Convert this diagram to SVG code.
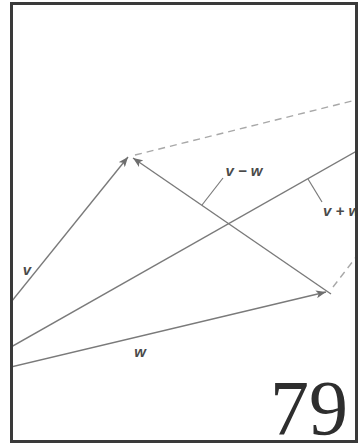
<svg xmlns="http://www.w3.org/2000/svg" width="360" height="443" viewBox="0 0 360 443">
<defs>
<style>
.vec{stroke:#7a7a7a;stroke-width:1.4;fill:none}
.dash{stroke:#a8a8a8;stroke-width:1.4;fill:none;stroke-dasharray:7 5}
.lead{stroke:#7a7a7a;stroke-width:1.2;fill:none}
.lbl{font-family:"Liberation Sans",Arial,sans-serif;font-size:15px;font-style:italic;font-weight:bold;fill:#4a4a4a}
.num{font-family:"Liberation Serif","DejaVu Serif",serif;font-size:78px;fill:#2e2e2e}
</style>
<marker id="ah" viewBox="0 0 10 8" refX="10" refY="4" markerWidth="10" markerHeight="8" markerUnits="userSpaceOnUse" orient="auto">
<path d="M0,0 L10,4 L0,8 L2.5,4 z" fill="#6e6e6e"/>
</marker>
<clipPath id="frame"><rect x="13" y="5" width="342" height="435"/></clipPath>
</defs>
<rect x="0" y="0" width="360" height="443" fill="#ffffff"/>
<g id="connectors" clip-path="url(#frame)">
<line id="dash-top" class="dash" x1="135" y1="155" x2="360" y2="99"/>
<line id="dash-right" class="dash" x1="333" y1="287" x2="360" y2="252"/>
<line id="vec-v" class="vec" x1="11" y1="302" x2="128" y2="157" marker-end="url(#ah)"/>
<line id="vec-w" class="vec" x1="11" y1="367" x2="326" y2="292" marker-end="url(#ah)"/>
<line id="vec-vpw" class="vec" x1="11" y1="347" x2="362" y2="148"/>
<line id="vec-vmw" class="vec" x1="331" y1="294" x2="133" y2="158" marker-end="url(#ah)"/>
<line id="lead-vmw" class="lead" x1="202" y1="205" x2="223" y2="178"/>
<line id="lead-vpw" class="lead" x1="308" y1="179" x2="322" y2="202"/>
</g>
<g id="labels" clip-path="url(#frame)">
<text id="label-v" class="lbl" x="27" y="275" text-anchor="middle">v</text>
<text id="label-vmw" class="lbl" x="244" y="176" text-anchor="middle">v − w</text>
<text id="label-vpw" class="lbl" x="323" y="216">v + w</text>
<text id="label-w" class="lbl" x="140" y="357" text-anchor="middle">w</text>
</g>
<text id="page-number" class="num" x="348" y="434" text-anchor="end">79</text>
<rect id="border" x="11.5" y="3.5" width="345" height="438" fill="none" stroke="#3a3a3a" stroke-width="3"/>
</svg>
